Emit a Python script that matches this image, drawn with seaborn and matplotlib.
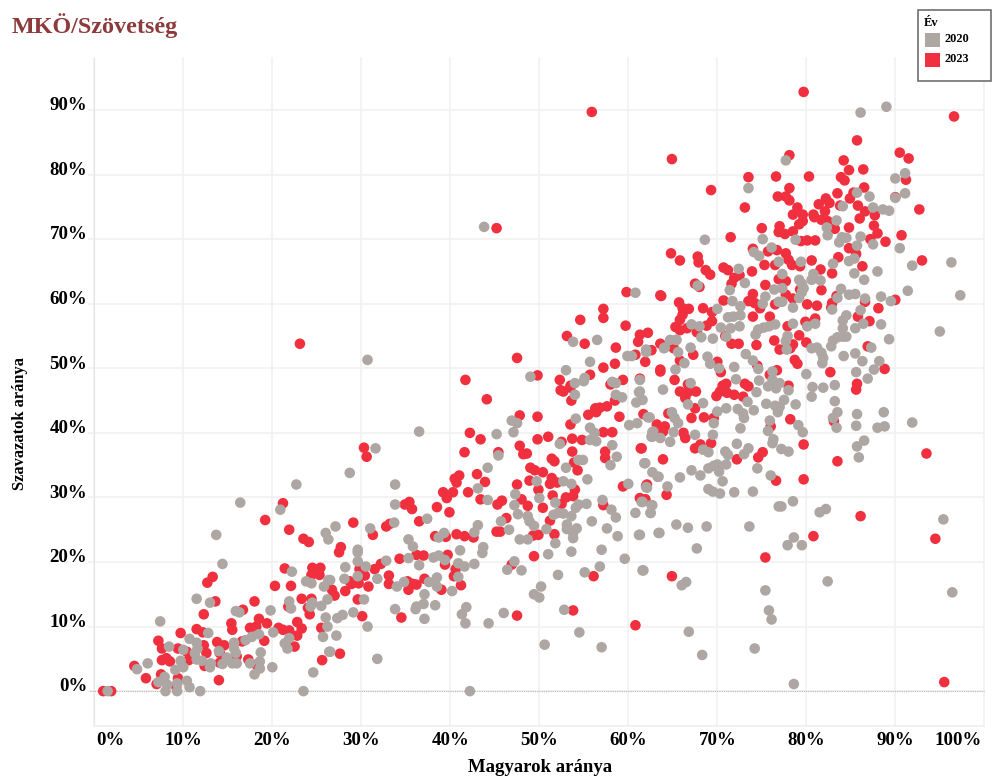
import numpy as np
import pandas as pd
import seaborn as sns
import matplotlib.pyplot as plt
from matplotlib.patches import Rectangle
from matplotlib.transforms import ScaledTranslation

# (magyarok aranya %, szavazatok aranya %)
pontok_2020 = [
(1.5,0),(4.8,3.4),(6.0,4.3),(7.4,10.8),(7.2,1.4),(7.9,2.2),(8.0,0),(8.2,1.0),(8.4,6.9),(9.1,3.3),(9.3,1.2),(9.3,0),
(9.7,4.7),(10.0,3.7),(10.0,6.4),(10.4,1.6),(10.7,0.6),(10.7,8.1),(11.5,7.5),(11.3,5.9),(11.5,14.3),(11.6,6.6),(11.9,0),
(12.1,4.7),(11.5,4.9),(12.8,9.0),(13.0,13.7),(13.1,4.3),(13.0,3.7),(13.7,24.2),(14.4,19.7),(14.0,6.2),(14.4,4.2),(14.9,5.2),
(15.5,4.3),(15.7,7.5),(15.7,6.6),(15.9,5.9),(16.0,4.3),(15.9,12.4),(16.3,12.2),(16.4,29.2),(17.0,7.9),(17.5,4.3),(17.7,8.4),
(18.0,2.6),(18.5,8.8),(18.7,6.0),(18.6,4.6),(18.6,3.5),(19.8,12.5),(20.0,3.7),(20.1,9.1),(20.9,28.1),(21.4,7.4),(21.9,8.2),
(21.7,6.6),(21.9,13.9),(22.1,12.8),(22.2,18.5),(22.7,32.0),(23.5,0),(23.8,17.0),(24.4,16.7),(24.5,13.7),(24.3,13.1),(24.6,2.9),
(25.5,13.2),(25.7,8.4),(26.0,24.5),(26.3,23.5),(25.8,16.2),(26.3,17.2),(26.2,14.2),(26.0,11.4),(26.2,10.0),(26.4,6.1),
(36.5,40.2),(31.6,37.6),(28.7,33.8),(33.8,32.0),(33.8,28.9),(37.4,26.7),(33.7,26.1),(31.0,25.2),(27.1,25.5),(29.6,21.9),
(29.6,21.5),(29.6,20.1),(28.2,19.2),(30.5,19.3),(32.8,20.2),(28.1,17.4),(29.6,17.8),(31.8,17.4),(26.5,17.2),(35.3,23.5),
(35.8,22.4),(35.3,20.6),(36.5,19.5),(38.7,23.8),(39.3,24.5),(38.1,20.7),(38.7,21.0),(39.4,20.3),(41.1,21.8),(40.9,19.8),
(41.6,19.3),(42.7,19.7),(40.9,17.7),(38.5,17.6),(37.6,16.9),(34.8,16.9),(34.0,16.2),(38.5,16.2),(40.2,15.5),(37.1,15.0),
(30.3,14.2),(37.0,13.5),(38.3,13.3),(36.2,13.1),(36.1,12.7),(33.8,12.7),(29.1,12.2),(27.9,11.8),(27.3,11.3),(37.1,11.2),
(30.7,10.0),(27.2,8.6),(31.8,5.0),(26.5,6.1),(41.8,13.0),(41.3,11.9),(41.7,10.5),(44.3,10.5),(46.0,12.1),(42.2,0),(50.6,7.2),
(54.5,9.1),(57.0,6.8),(52.8,12.6),(49.4,15.0),(50.0,14.5),(50.2,16.2),(52.1,18.0),(48.0,18.7),(46.4,18.8),(47.2,20.1),
(43.7,22.3),(43.6,21.4),(43.1,25.7),(42.7,24.6),(44.2,34.6),(43.1,31.4),(44.2,29.6),(45.4,36.5),(45.2,39.8),(46.9,41.9),
(47.5,41.5),(47.1,40.1),(47.3,30.5),(47.2,28.8),(47.6,27.4),(45.7,26.3),(46.6,25.0),(47.8,23.5),(48.7,23.5),(48.7,27.1),
(48.9,26.3),(49.4,25.6),(49.7,32.5),(50.0,29.9),(50.8,25.1),(51.8,29.2),(51.6,27.3),(52.1,27.6),(52.7,32.5),(53.6,32.1),
(53.0,34.6),(54.4,35.8),(54.9,35.8),(55.4,32.8),(52.3,38.3),(54.1,42.2),(55.7,40.8),(56.2,40.0),(55.7,38.9),(56.4,38.7),
(58.2,38.1),(58.7,36.3),(58.0,35.0),(55.0,48.0),(58.6,47.7),(58.6,45.9),(61.2,46.3),(60.9,44.7),(62.4,42.4),(61.0,41.5),
(60.1,41.2),(62.7,39.4),(62.8,40.2),(61.9,35.3),(62.7,33.9),(63.4,33.2),(60.0,32.1),(62.0,31.6),(57.1,29.6),(55.3,29.0),
(54.4,28.9),(54.1,28.4),(58.1,28.1),(58.6,26.9),(60.8,27.6),(62.6,28.8),(62.5,27.6),(61.5,29.3),(55.9,26.3),(57.6,25.2),
(58.8,24.0),(61.2,24.2),(63.4,24.5),(52.7,27.5),(53.6,27.1),(53.1,25.8),(53.1,25.1),(54.2,25.2),(53.8,24.5),(53.8,23.7),
(51.8,22.9),(53.6,21.6),(51.0,21.2),(57.0,21.9),(59.6,20.5),(56.8,19.3),(55.1,18.4),(61.6,18.7),
(86.1,89.6),(89.0,90.5),(77.7,82.2),(73.5,77.9),(90.0,79.4),(91.1,80.2),(91.1,77.1),(90.0,76.4),(85.7,77.2),(87.1,76.6),
(87.5,74.9),(88.6,74.6),(89.3,74.4),(84.1,75.1),(83.4,72.9),(82.3,71.8),(82.4,70.6),(84.0,70.3),(84.5,70.2),(83.7,69.5),
(86.1,70.4),(85.7,69.0),(87.5,69.2),(90.5,68.6),(68.6,69.9),(75.1,70.0),(78.8,69.9),(76.1,68.7),(74.1,68.0),(74.7,67.4),
(76.9,66.5),(79.4,66.5),(83.0,66.2),(84.8,66.6),(85.4,67.0),(91.9,65.9),(96.3,66.4),(85.4,64.7),(88.0,65.0),(86.5,63.7),
(72.4,65.4),(77.3,64.6),(80.8,64.6),(80.6,63.7),(81.6,63.6),(79.2,63.7),(79.5,63.1),(79.7,62.4),(79.5,61.8),(79.2,60.9),
(83.9,62.3),(83.5,60.9),(84.8,61.4),(85.5,61.5),(86.6,60.8),(88.4,61.1),(89.5,60.4),(91.4,62.0),(97.3,61.3),(73.1,63.2),
(71.4,62.1),(67.8,62.8),(76.4,62.2),(77.3,62.4),(75.4,61.1),(71.7,60.4),(72.6,59.6),(75.1,60.0),(76.9,60.3),(77.3,60.3),
(78.5,59.4),(82.9,59.1),(86.1,59.0),(70.0,59.2),(72.6,58.2),(71.8,58.0),(71.2,57.9),(84.5,58.2),(84.1,57.4),(88.4,56.8),
(86.4,56.9),(85.5,56.2),(78.5,56.9),(81.0,56.9),(80.1,56.5),(67.1,56.8),(68.0,56.5),(70.4,56.3),(71.5,56.2),(72.5,56.5),
(76.5,56.8),(75.8,56.5),(75.2,56.3),(74.6,56.0),(74.3,55.2),(84.1,56.2),(84.1,54.9),(83.5,54.8),(84.5,54.9),(68.2,54.8),
(69.5,54.6),(71.0,54.9),(64.7,54.4),(65.4,54.4),(77.9,55.0),(77.7,54.2),(77.8,52.9),(83.0,54.3),(82.8,53.4),(89.3,54.5),
(95.0,55.7),(87.3,53.2),(80.6,53.1),(81.2,53.2),(81.7,52.4),(81.9,51.6),(81.8,50.8),(64.0,53.1),(62.0,52.9),(65.6,52.5),
(67.0,53.2),(66.3,50.8),(65.3,49.8),(68.9,51.8),(69.2,50.7),(70.2,50.0),(73.2,52.2),(74.0,51.2),(74.6,49.9),(71.9,50.2),
(84.2,51.9),(85.5,52.3),(86.3,51.1),(88.2,51.1),(87.6,49.8),(85.6,49.4),(86.9,48.4),(76.2,49.5),(80.0,49.1),(72.1,48.3),
(74.7,48.1),(67.0,47.7),(63.9,46.7),(76.2,48.2),(77.0,47.7),(76.6,46.9),(75.7,47.2),(78.0,46.6),(80.7,47.1),(81.9,47.0),
(83.2,47.4),(74.4,46.3),(80.6,45.6),(61.3,46.4),
(78.8,44.4),(77.5,45.1),(75.5,44.5),(76.5,44.2),(77.0,44.0),(76.8,43.2),(74.1,43.5),(73.4,44.8),(70.0,43.3),(71.0,43.8),
(72.3,43.7),(72.9,43.0),(73.0,42.3),(68.4,44.6),(66.7,44.4),(64.9,43.2),(65.2,42.3),(65.6,41.5),(62.2,42.4),(65.1,40.1),
(67.5,39.7),(69.5,39.7),(69.6,41.5),(72.6,40.7),(75.9,41.9),(75.7,40.3),(76.3,39.0),(76.2,38.4),(79.1,41.2),(79.6,40.1),
(83.2,44.9),(83.5,43.2),(83.0,42.3),(83.4,40.8),(85.7,42.9),(85.6,41.1),(88.7,43.2),(88.8,41.0),(88.0,40.8),(91.9,41.6),
(86.5,38.8),(85.7,37.9),(85.9,36.2),(62.7,40.1),(62.6,39.4),(63.6,39.2),(64.7,38.6),(61.8,35.3),(63.3,33.2),(65.8,33.1),
(67.1,34.2),(68.1,33.4),(69.0,34.5),(69.6,34.9),(70.0,35.1),(70.2,34.0),(71.0,35.1),(72.2,38.3),(68.4,37.4),(69.0,37.0),
(70.9,37.1),(71.2,36.6),(73.0,36.7),(73.5,37.6),(77.2,37.5),(78.0,37.1),(74.5,34.5),(76.0,33.4),(70.6,32.5),(69.0,31.3),
(69.5,30.9),(70.3,30.6),(71.9,30.8),(74.0,30.9),(62.1,31.5),(64.4,31.7),(61.6,29.3),(62.7,28.8),(62.5,27.6),(65.4,25.8),
(66.7,25.3),(68.8,25.5),(63.5,24.5),(61.3,24.2),(67.7,22.1),(73.6,25.5),(78.5,29.4),(76.9,28.6),(77.2,28.6),(82.2,28.2),
(81.5,27.7),(95.4,26.6),(78.6,23.8),(77.9,22.6),(79.5,22.6),(61.7,18.7),(82.4,17.0),(96.4,15.3),(66.0,16.4),(66.5,16.9),
(75.4,15.6),(75.8,12.5),(76.1,11.1),(66.8,9.2),(74.2,6.6),(68.3,5.6),(78.6,1.1),
(43.8,71.9),(30.7,51.3),(53.8,54.1),(56.5,54.4),(49.0,48.7),(60.8,61.7),(59.9,51.9),(60.4,51.9),(58.2,47.9),(61.3,48.2),
(62.0,52.5),(64.1,53.2),(65.4,54.4),(55.7,51.0),(53.0,49.7),(55.1,48.5),(54.0,47.7),(61.6,45.1),(59.3,45.5),(54.0,45.9),
]

pontok_2023 = [
(1.0,0),(1.9,0),(4.5,3.9),(5.8,2.0),(7.0,1.1),(7.5,2.6),(7.2,7.8),(7.6,6.6),(7.6,4.8),(8.1,5.1),(8.5,4.6),(9.4,2.0),(9.2,0.7),
(9.7,9.0),(9.4,6.6),(10.4,6.1),(10.6,4.8),(11.5,9.6),(12.2,9.1),(12.3,11.9),(12.3,7.1),(12.6,5.9),(12.4,3.9),(12.7,16.8),
(13.3,17.7),(13.6,13.9),(13.8,7.6),(14.6,7.1),(14.1,5.9),(14.0,1.7),(14.1,4.4),(15.4,10.5),(15.5,9.5),(16.0,5.4),(16.7,12.6),
(16.6,7.7),(17.3,4.9),(18.0,13.9),(17.5,9.8),(18.2,10.0),(18.5,11.2),(18.2,4.1),(19.1,7.8),(19.2,26.5),(19.4,10.5),(20.3,16.3),
(20.7,9.8),(21.2,9.5),(21.9,9.4),(21.2,29.1),(21.9,25.0),(21.4,19.0),(22.1,16.3),(21.8,13.1),(22.5,6.9),(22.8,8.6),(22.8,10.7),
(23.3,9.7),(23.3,14.3),(23.5,23.6),(24.1,23.1),(24.0,12.9),(24.2,11.9),(24.4,14.3),(24.5,19.1),(24.4,18.0),(25.4,19.1),
(25.3,18.0),(25.5,9.8),(25.6,4.8),
(41.7,48.2),(44.1,45.2),(47.8,42.7),(49.8,42.5),(52.7,46.4),(53.5,47.0),(53.6,45.0),(58.0,47.5),(58.5,45.0),(57.6,44.1),
(56.3,43.8),(56.4,43.2),(55.5,42.8),(59.0,42.5),(53.5,41.3),(57.2,40.1),(58.2,40.1),(42.2,40.0),(43.4,39.0),(49.8,39.0),
(51.0,39.4),(52.5,38.6),(53.7,39.1),(54.8,38.9),(47.8,38.0),(41.6,37.0),(45.4,37.0),(48.2,36.7),(48.6,36.8),(53.7,37.1),
(57.4,37.1),(57.4,36.1),(61.4,37.6),(51.4,36.0),(51.7,35.6),(53.9,35.4),(49.0,34.6),(49.5,34.2),(50.4,33.9),(54.3,34.2),
(43.0,33.6),(41.0,33.4),(40.5,32.9),(40.7,32.3),(43.9,32.4),(48.9,32.6),(47.5,32.0),(51.4,33.0),(51.2,32.1),(52.0,32.3),
(49.9,31.2),(62.1,32.0),(59.4,31.7),(39.2,30.8),(40.3,30.8),(42.0,30.8),(39.6,29.9),(51.5,30.3),(54.0,31.2),(53.8,30.2),
(53.0,30.0),(52.5,29.0),(43.4,29.7),(45.8,29.5),(45.3,28.9),(48.0,29.7),(48.7,28.7),(50.4,28.4),(61.3,29.9),(61.9,29.7),
(57.2,28.8),(34.9,28.9),(35.4,29.3),(35.7,28.2),(38.5,28.5),(39.9,27.7),(46.3,26.8),(51.2,26.4),(36.5,26.3),(29.1,26.1),
(32.8,25.5),(33.2,25.9),(31.3,24.2),(30.3,37.7),(30.6,36.3),(45.2,24.7),(45.6,24.7),(38.3,24.0),(39.5,23.9),(40.7,24.3),
(41.6,24.0),(42.6,23.8),(49.3,24.1),(49.9,24.2),(51.7,24.3),(27.7,22.3),(27.5,21.5),(36.2,21.1),(37.0,21.0),(39.7,21.1),
(34.3,20.5),(39.4,19.6),(49.4,20.9),(32.2,19.7),(31.5,18.9),(29.8,18.9),(46.9,19.6),(40.6,18.9),(40.4,17.8),(56.1,17.8),
(33.1,17.9),(30.4,17.9),(28.7,17.0),(29.7,16.7),(28.9,16.6),(30.8,16.2),(33.1,16.6),(26.7,15.7),(27.0,14.8),(28.2,15.5),
(35.2,17.0),(35.3,15.7),(35.8,16.6),(36.2,16.5),(37.1,17.4),(39.0,15.7),(41.2,16.4),(29.6,14.2),(30.1,11.6),(34.5,11.4),
(47.5,11.7),(53.8,12.5),(60.8,10.2),(27.6,5.8),
(79.7,92.8),(96.6,89.0),(85.7,85.3),(90.5,83.4),(91.5,82.5),(78.1,83.0),(64.9,82.4),(84.2,82.2),(84.8,80.7),(86.4,80.8),
(73.5,79.6),(76.6,79.7),(80.3,79.7),(83.9,79.6),(84.3,79.1),(91.2,79.2),(69.3,77.6),(78.1,77.9),(86.5,78.0),(83.5,77.1),
(85.3,77.2),(76.8,76.6),(77.7,76.6),(78.1,76.0),(84.9,76.3),(82.2,76.3),(90.0,76.5),(73.1,74.9),(81.4,75.4),(82.6,75.6),
(82.1,74.3),(83.8,75.2),(85.8,75.2),(79.0,74.9),(78.5,73.8),(79.6,73.8),(86.6,74.3),(87.7,73.7),(92.7,74.6),(80.8,73.8),
(80.9,73.4),(86.0,73.2),(81.7,73.0),(82.4,72.8),(79.6,72.8),(79.2,72.3),(75.0,71.7),(77.0,72.0),(84.8,71.8),(87.6,72.1),
(83.2,71.6),(76.9,71.1),(77.6,70.8),(78.5,71.2),(88.0,70.9),(90.7,70.6),(71.5,70.3),(87.2,70.0),(88.9,69.6),(79.4,69.7),
(80.1,69.8),(81.0,69.8),(64.8,67.8),(65.8,66.7),(67.8,67.3),(67.9,66.4),(68.7,65.2),(69.2,64.5),(70.7,65.6),(71.2,65.2),
(72.5,64.4),(71.9,64.0),(71.6,63.1),(73.9,65.0),(75.3,66.0),(74.0,68.5),(75.7,68.1),(76.7,68.3),(77.7,67.8),(78.0,66.8),
(76.5,66.0),(78.4,66.0),(79.3,65.8),(80.6,66.7),(83.6,67.2),(84.8,68.6),(85.6,67.7),(86.3,65.8),(93.0,66.7),(81.6,65.3),
(82.9,64.7),(76.9,63.8),(77.7,63.5),(75.4,62.9),(67.5,63.1),(68.0,62.6),(81.7,62.1),(63.6,61.3),(65.7,60.2),(66.1,59.3),
(66.8,59.2),(68.4,59.3),(74.0,61.5),(70.7,60.5),(73.5,60.4),(74.2,60.1),(74.8,59.3),(76.5,59.9),(77.7,61.4),(78.5,60.8),
(79.3,62.2),(80.1,59.9),(81.2,59.7),(83.4,61.2),(82.9,60.1),(82.8,59.4),(90.0,60.6),(86.6,60.3),(88.1,59.3),(69.4,58.7),
(66.1,58.3),(69.4,57.3),(65.8,57.5),(68.8,56.6),(65.3,56.4),(66.6,56.2),(74.0,58.0),(75.9,58.0),(79.9,57.2),(81.0,57.7),
(85.8,58.0),(87.1,57.3),(77.9,56.5),(67.7,55.6),(61.3,55.2),(70.9,55.0),(76.4,54.3),(79.2,55.1),(80.0,54.0),(71.6,53.8),
(72.4,53.8),(74.4,53.6),(78.5,53.7),(78.2,53.1),(77.0,52.9),(86.9,53.4),(65.1,53.1),(62.6,52.8),(67.3,52.1),(65.8,51.2),
(70.0,51.0),(78.7,51.3),(79.0,50.7),(88.8,49.9),(74.5,50.4),(63.6,49.5),(70.4,49.4),(76.7,49.7),(75.9,49.0),(82.7,49.4),
(65.2,48.2),(61.3,48.4),(66.7,47.5),(85.7,47.6),(85.6,46.7),(65.8,46.4),(66.7,46.3),(67.6,46.4),(71.0,47.6),(70.6,47.3),
(73.1,47.6),(73.5,47.2),(70.3,46.4),(71.1,46.2),(71.9,45.9),(72.9,45.6),(78.0,47.3),(66.4,45.4),(69.9,45.7),
(61.7,42.9),(64.5,43.0),(67.1,42.3),(68.5,42.4),(69.6,42.3),(78.2,42.1),(76.0,41.0),(67.5,43.8),(63.2,41.3),(64.1,41.0),
(63.9,40.2),(66.2,40.0),(66.4,39.2),(69.3,38.4),(68.1,38.2),(67.5,37.6),(79.7,38.2),(93.5,36.8),(75.1,37.0),(74.6,36.2),
(72.2,35.9),(61.5,37.6),(63.9,35.9),(83.5,35.6),(79.7,32.8),(76.6,32.6),(64.3,30.4),(62.0,31.8),(61.9,29.7),(86.1,27.1),
(80.8,24.0),(94.5,23.6),(75.4,20.7),(64.9,17.8),(95.5,1.4),(83.1,41.8),
(55.9,89.7),(45.2,71.7),(23.1,53.8),(47.5,51.6),(49.8,48.9),(57.2,59.2),(57.2,57.8),(54.6,57.5),(53.1,55.0),(55.1,53.8),
(59.7,56.6),(62.2,55.5),(59.8,61.8),(63.7,61.2),(58.6,53.2),(61.1,54.1),(60.8,52.1),(63.6,53.8),(63.6,49.8),(59.4,48.2),
(55.7,49.0),(53.5,47.3),(57.2,50.1),(58.5,50.7),(61.9,51.0),(52.3,48.2),(52.4,46.6),(56.3,43.6),(56.8,43.9),(65.8,55.9),
]

evek = ["2020", "2023"]
szinek = ["#ADA6A3", "#F0303F"]
x_ticks = list(range(0, 101, 10))
y_ticks = list(range(0, 91, 10))

plt.rcParams["font.family"] = ["Liberation Serif", "DejaVu Serif"]
plt.rcParams["font.weight"] = "bold"

d20 = pd.DataFrame(pontok_2020, columns=["magyar", "szavazat"]).assign(ev="2020")
d23 = pd.DataFrame(pontok_2023, columns=["magyar", "szavazat"]).assign(ev="2023")
# a szurke van felul
df = pd.concat([d23, d20], ignore_index=True)

W, H = 995, 776
fig = plt.figure(figsize=(W / 100, H / 100), dpi=100)
ax = fig.add_axes([94.3 / W, 1 - 726 / H, 890 / W, (726 - 57.7) / H])

sns.scatterplot(data=df, x="magyar", y="szavazat", hue="ev", palette=dict(zip(evek, szinek)),
                s=58, linewidth=0, alpha=1, legend=False, ax=ax, zorder=3, clip_on=False)

ax.set_xlim(0, 100)
ax.set_ylim(-5.4, 98.1)
ax.set_xticks(x_ticks)
ax.set_yticks(y_ticks)
ax.set_xticklabels([f"{t}%" for t in x_ticks], fontsize=13.6, fontweight="bold")
ax.set_yticklabels([f"{t}%" for t in y_ticks], fontsize=13.6, fontweight="bold")
ax.grid(True, color="#F1F1F1", linewidth=1.2, zorder=0, clip_on=False)
ax.set_axisbelow(True)
ax.tick_params(axis="x", length=0, pad=4)
ax.tick_params(axis="y", length=4, pad=1, color="#F1F1F1", width=1.2)

labs = ax.get_xticklabels()
labs[0].set_ha("left")
labs[0].set_transform(labs[0].get_transform() + ScaledTranslation(1.5 / 72, 0, fig.dpi_scale_trans))
labs[-1].set_ha("right")
labs[-1].set_transform(labs[-1].get_transform() + ScaledTranslation(-1.5 / 72, 0, fig.dpi_scale_trans))
for lab in ax.get_yticklabels():
    lab.set_transform(lab.get_transform() + ScaledTranslation(0, 4.5 / 72, fig.dpi_scale_trans))

for s in ["top", "right"]:
    ax.spines[s].set_visible(False)
ax.spines["left"].set_color("#E4E4E4")
ax.spines["left"].set_linestyle((0, (1, 1)))
ax.spines["left"].set_linewidth(0.8)
ax.spines["bottom"].set_color("#EFEFEF")
ax.spines["bottom"].set_linewidth(1.2)

ax.axhline(0, xmin=-0.005, color="#B5B5B5", linewidth=0.8, linestyle=(0, (1, 1)), clip_on=False, zorder=1)

ax.set_xlabel("")
ax.set_ylabel("")
fig.text(540 / W, 1 - 767 / H, "Magyarok aránya", ha="center", va="center", fontsize=13.5, fontweight="bold")
fig.text(20 / W, 1 - 424 / H, "Szavazatok aránya", ha="center", va="center", rotation=90, fontsize=11.8, fontweight="bold")
fig.text(12 / W, 1 - 26 / H, "MKÖ/Szövetség", ha="left", va="center", fontsize=17.4, fontweight="bold", color="#8C3A3A")

# jelmagyarazat keretben
def px_rect(x0, y0, x1, y1, **kw):
    r = Rectangle((x0 / W, 1 - y1 / H), (x1 - x0) / W, (y1 - y0) / H, transform=fig.transFigure, **kw)
    fig.add_artist(r)

px_rect(917.7, 10, 991, 81, facecolor="white", edgecolor="#707070", linewidth=1.2, zorder=5)
fig.text(924 / W, 1 - 23 / H, "Év", ha="left", va="center", fontsize=9, fontweight="bold", zorder=6)
for i, (e, c) in enumerate(zip(evek, szinek)):
    px_rect(925, 33 + i * 20, 940, 47 + i * 20, facecolor=c, edgecolor="none", zorder=6)
    fig.text(945 / W, 1 - (39.5 + i * 20) / H, e, ha="left", va="center", fontsize=8.8, fontweight="bold", zorder=6)

fig.savefig("out.png", dpi=100)
